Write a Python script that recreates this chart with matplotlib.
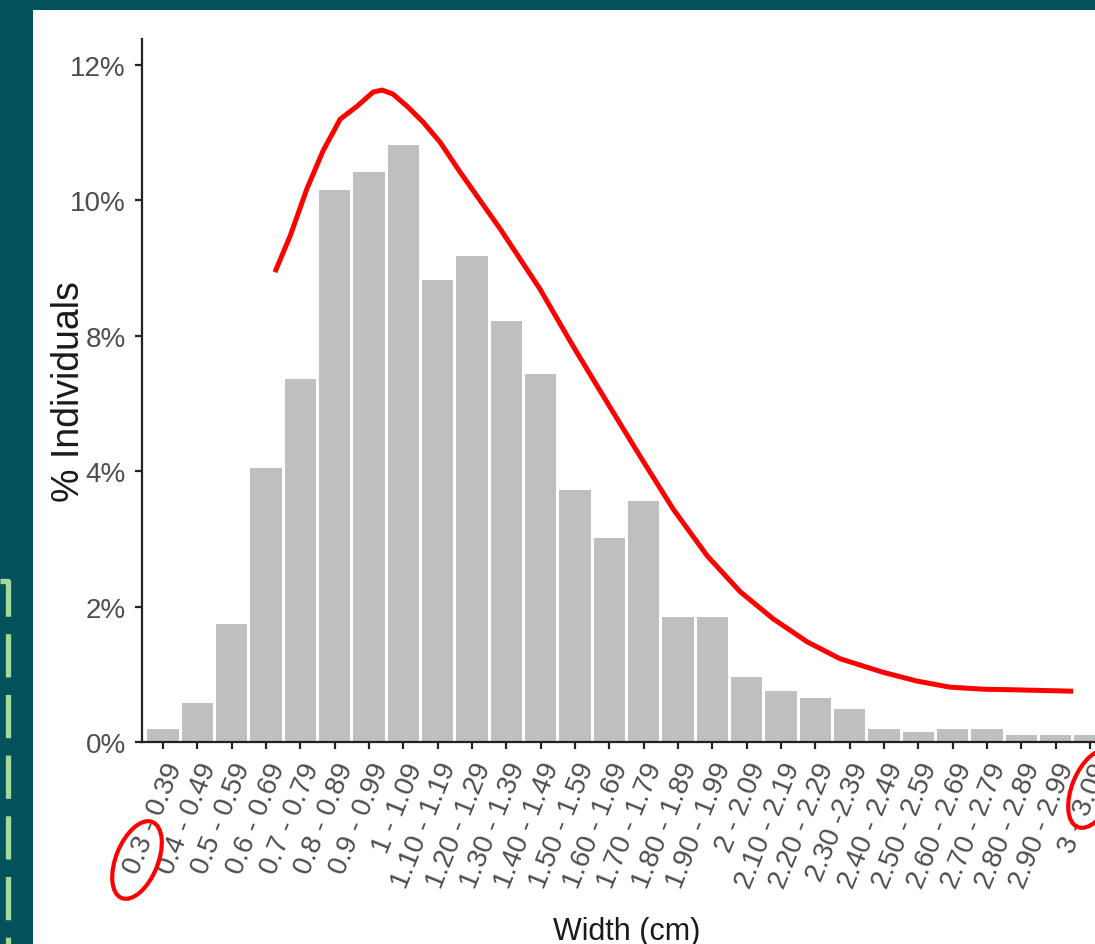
import numpy as np
import matplotlib
matplotlib.use("Agg")
import matplotlib.pyplot as plt
from matplotlib.patches import Rectangle, Ellipse
from matplotlib.lines import Line2D

# ---------------- data ----------------
categories = ["0.3 - 0.39", "0.4 - 0.49", "0.5 - 0.59", "0.6 - 0.69", "0.7 - 0.79",
              "0.8 - 0.89", "0.9 - 0.99", "1 - 1.09", "1.10 - 1.19", "1.20 - 1.29",
              "1.30 - 1.39", "1.40 - 1.49", "1.50 - 1.59", "1.60 - 1.69", "1.70 - 1.79",
              "1.80 - 1.89", "1.90 - 1.99", "2 - 2.09", "2.10 - 2.19", "2.20 - 2.29",
              "2.30 -2.39", "2.40 - 2.49", "2.50 - 2.59", "2.60 - 2.69", "2.70 - 2.79",
              "2.80 - 2.89", "2.90 - 2.99", "3 - 3.09"]
pct_individuals = [0.19, 0.58, 1.74, 4.10, 6.72, 10.15, 10.42, 10.82, 8.82, 9.18,
                   8.22, 6.87, 3.72, 3.01, 3.56, 1.85, 1.85, 0.96, 0.75, 0.65,
                   0.49, 0.19, 0.15, 0.19, 0.19, 0.10, 0.10, 0.10]
# y tick labels as printed on the reference (evenly spaced on the axis)
ytick_values = [0, 2, 4, 8, 10, 12]
ytick_labels = ["0%", "2%", "4%", "8%", "10%", "12%"]

# hand-drawn red trend curve (x in category index, y in % units)
curve_x = [3.26, 3.70, 4.19, 4.66, 5.16, 5.65, 6.12, 6.38, 6.70, 7.11, 7.57, 8.07,
           8.65, 9.82, 10.98, 11.94, 12.93, 13.89, 14.86, 15.85, 16.81, 17.77,
           18.76, 19.72, 20.97, 21.96, 22.92, 23.89, 24.88, 26.51]
curve_y = [8.94, 9.47, 10.17, 10.73, 11.20, 11.39, 11.60, 11.63, 11.57, 11.39, 11.16,
           10.86, 10.42, 9.58, 8.69, 7.70, 6.04, 4.45, 3.44, 2.75, 2.22, 1.82,
           1.48, 1.23, 1.03, 0.90, 0.81, 0.78, 0.77, 0.75]

# ---------------- figure ----------------
W, H = 1095, 945
fig = plt.figure(figsize=(W / 100, H / 100), dpi=100)
teal = "#03515a"
fig.patch.set_facecolor(teal)
fig.add_artist(Rectangle((33 / W, 0), 1 - 33 / W, 1 - 11 / H, transform=fig.transFigure,
                         facecolor="white", edgecolor="none", zorder=-10))
# dashed light green bracket on the left border
fig.add_artist(Line2D([0.0, 0.075, 0.075], [3.63, 3.63, 0.0], transform=fig.dpi_scale_trans,
                      color="#a3d99a", lw=3.8, dashes=(8.2, 3.3), zorder=-5))

ax_left, ax_right = 142.4, 1110.6
ax_top, ax_bottom = 40, 743
ax = fig.add_axes([ax_left / W, 1 - ax_bottom / H, (ax_right - ax_left) / W,
                   (ax_bottom - ax_top) / H])
ax.set_facecolor("none")

# piecewise scale so that the printed tick labels sit evenly spaced
scale_vals = ytick_values + [ytick_values[-1] + 2]
scale_pos = list(range(len(scale_vals)))
fwd = lambda v: np.interp(v, scale_vals, scale_pos)
inv = lambda p: np.interp(p, scale_pos, scale_vals)
ax.set_yscale("function", functions=(fwd, inv))

x = np.arange(len(categories))
ax.bar(x, pct_individuals, width=0.92, color="#bfbfbf", edgecolor="none", zorder=2)
ax.plot(curve_x, curve_y, color="#ff0000", lw=3.6, solid_capstyle="butt",
        solid_joinstyle="round", zorder=5, clip_on=False)

ax.set_xlim(-0.6, 27.6)
ax.set_ylim(0, inv((ax_bottom - ax_top) / 135.4))

for s in ["top", "right"]:
    ax.spines[s].set_visible(False)
for s in ["left", "bottom"]:
    ax.spines[s].set_linewidth(1.6)
    ax.spines[s].set_color("#222222")

ax.set_yticks(ytick_values)
ax.set_yticklabels(ytick_labels, family="Liberation Sans", fontsize=20, color="#4d4d4d")
ax.yaxis.set_minor_locator(matplotlib.ticker.NullLocator())
ax.set_xticks(x)
ax.set_xticklabels(categories, rotation=68, ha="right", va="top", rotation_mode="anchor",
                   family="Liberation Sans", fontsize=20, color="#4d4d4d")
ax.tick_params(axis="both", length=5, width=1.6, color="#222222")
ax.tick_params(axis="y", pad=7)
ax.tick_params(axis="x", pad=7)

ax.set_ylabel("% Individuals", family="Liberation Sans", fontsize=27, color="#1a1a1a")
ax.yaxis.set_label_coords((69 - ax_left) / (ax_right - ax_left), 0.5)
ax.yaxis.label.set_va("center")
ax.set_xlabel("Width (cm)", family="Liberation Sans", fontsize=22, color="#1a1a1a")
ax.xaxis.set_label_coords(0.5, (ax_bottom - 940) / (ax_bottom - ax_top))
ax.xaxis.label.set_va("baseline")

# red hand-drawn circles
for cx, cy in [(1.37, 0.84), (10.93, 1.55)]:
    fig.add_artist(Ellipse((cx, cy), 0.82, 0.42, angle=68, transform=fig.dpi_scale_trans,
                           facecolor="none", edgecolor="#ff0000", lw=3.0, zorder=10))

fig.savefig("out.png", dpi=100, facecolor=fig.get_facecolor())
